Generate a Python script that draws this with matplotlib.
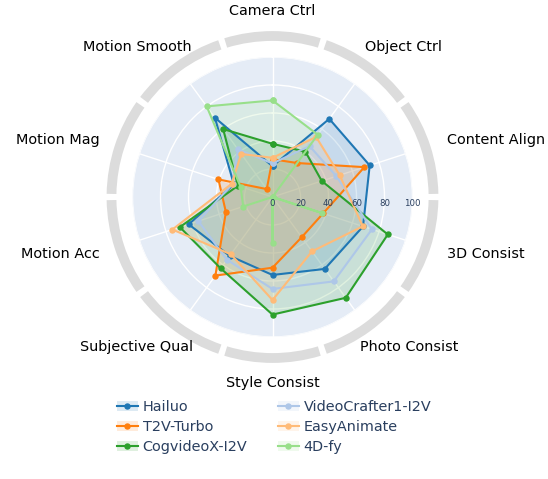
import numpy as np
import matplotlib
matplotlib.use("Agg")
import matplotlib.pyplot as plt
from matplotlib.patches import Patch
from matplotlib.lines import Line2D

categories = ["Camera Ctrl", "Object Ctrl", "Content Align", "3D Consist", "Photo Consist",
              "Style Consist", "Subjective Qual", "Motion Acc", "Motion Mag", "Motion Smooth"]

hailuo        = [22, 69, 73, 68, 63.5, 55.7, 52, 63, 29, 70]
t2v_turbo     = [27, 30, 69, 38, 35.5, 50.5, 69.4, 35, 40.6, 7]
cogvideox     = [38, 40, 37, 86.6, 89, 84, 63, 69.6, 26, 60]
videocrafter  = [24, 45, 48, 74.7, 74.5, 65.7, 55.4, 55.7, 30, 42]
easyanimate   = [28, 53, 50.5, 67.8, 48, 73.6, 50.6, 75.2, 30.6, 38]
fourdfy       = [69, 55, 0, 37, 0, 32.6, 0, 22, 24, 80]

series_names = ["Hailuo", "T2V-Turbo", "CogvideoX-I2V", "VideoCrafter1-I2V", "EasyAnimate", "4D-fy"]
series_values = [hailuo, t2v_turbo, cogvideox, videocrafter, easyanimate, fourdfy]
colors = ["#1f77b4", "#ff7f0e", "#2ca02c", "#aec7e8", "#ffbb78", "#98df8a"]

r_ticks = [0, 20, 40, 60, 80, 100]

W, H, DPI = 548, 479, 100
fig = plt.figure(figsize=(W / DPI, H / DPI), dpi=DPI)
cx, cy, R = 272.5, 197.0, 140.0
ax = fig.add_axes([(cx - R) / W, (H - cy - R) / H, 2 * R / W, 2 * R / H], projection="polar")
ax.set_theta_zero_location("N")
ax.set_theta_direction(-1)
ax.set_ylim(0, 100)
ax.set_facecolor("#E5ECF6")
ax.spines["polar"].set_visible(False)

n = len(categories)
angles = np.arange(n) * 2 * np.pi / n
ax.set_xticks(angles)
ax.set_xticklabels([])
ax.set_yticks(r_ticks[1:])
ax.set_yticklabels([])
ax.grid(True, color="white", linewidth=1.0)
ax.tick_params(axis="both", length=0)

# outer segmented ring
gap = np.deg2rad(2.2)
ax.bar(angles, 7.0, bottom=111.5, width=2 * np.pi / n - gap, color="#dcdcdc",
       edgecolor="none", clip_on=False, zorder=0.5)

closed = np.concatenate([angles, angles[:1]])
for name, vals, col in zip(series_names, series_values, colors):
    v = np.concatenate([vals, vals[:1]])
    ax.fill(closed, v, color=col, alpha=0.15, zorder=2, linewidth=0)
    ax.plot(closed, v, color=col, linewidth=1.5, marker="o", markersize=3.6, zorder=3,
            clip_on=False)

# radial tick labels
px = 72.0 / DPI
for t in r_ticks:
    ax.annotate(str(t), xy=(np.pi / 2, t), xytext=(0, -7 * px), textcoords="offset points",
                ha="center", va="center", fontsize=6.2, color="#2a3f5f",
                annotation_clip=False, zorder=5)

# category labels
label_r = 186.0 / R * 100
renderer = fig.canvas.get_renderer()
for ang, lab in zip(angles, categories):
    t = ax.annotate(lab, xy=(ang, label_r), xytext=(0, 0), textcoords="offset points",
                    ha="center", va="center", fontsize=10.4, color="black",
                    annotation_clip=False)
    w = t.get_window_extent(renderer).width
    s, c = np.sin(ang), np.cos(ang)
    shift = w / 2 * s
    if s < -0.1:
        shift += 8.0 * abs(c)
    elif s > 0.1:
        shift -= 1.5 * abs(c)
    t.set_position((shift * px, 0))

handles = [(Patch(facecolor=c, alpha=0.15, edgecolor="none"),
            Line2D([], [], color=c, linewidth=1.5, marker="o", markersize=3.6))
           for c in colors]
leg = fig.legend(handles, series_names, loc="upper center", bbox_to_anchor=(0.5, 0.192),
                 ncol=2, frameon=False, fontsize=10.4, handlelength=1.5, handletextpad=0.3,
                 columnspacing=2.1, labelspacing=0.42, labelcolor="#2a3f5f")

fig.savefig("out.png", dpi=DPI)
